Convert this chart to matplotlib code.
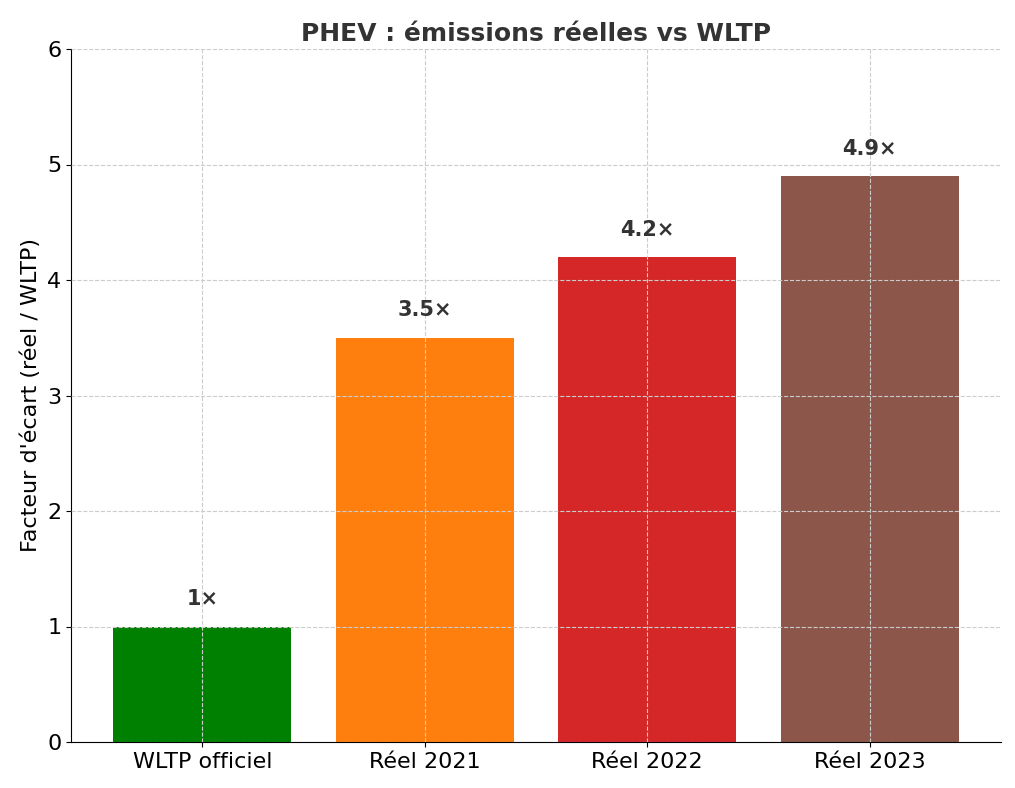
import matplotlib
matplotlib.use("Agg")
import matplotlib.pyplot as plt

categories = ["WLTP officiel", "Réel 2021", "Réel 2022", "Réel 2023"]
values = [1.0, 3.5, 4.2, 4.9]
labels = ["1×", "3.5×", "4.2×", "4.9×"]
colors = ["#008000", "#ff7f0e", "#d62728", "#8c564b"]

fig = plt.figure(figsize=(10.15, 7.88), dpi=100)
ax = fig.add_axes([71/1015, 1-742/788, 930/1015, 693/788])
x = range(len(categories))
ax.bar(x, values, width=0.8, color=colors)
for xi, v, l in zip(x, values, labels):
    ax.text(xi, v + 0.15, l, ha="center", va="bottom", fontsize=15, fontweight="bold", color="#333333")
ax.set_xticks(list(x))
ax.set_xticklabels(categories, fontsize=16)
ax.tick_params(axis="y", labelsize=16)
ax.set_xlim(-0.59, 3.59)
ax.set_ylim(0, 6)
ax.set_ylabel("Facteur d'écart (réel / WLTP)", fontsize=16)
ax.set_title("PHEV : émissions réelles vs WLTP", fontsize=18, fontweight="bold", color="#333333")
ax.grid(True, linestyle="--", color="#cccccc", linewidth=0.8)
ax.set_axisbelow(False)
ax.spines["top"].set_visible(False)
ax.spines["right"].set_visible(False)
fig.savefig("out.png", dpi=100)
